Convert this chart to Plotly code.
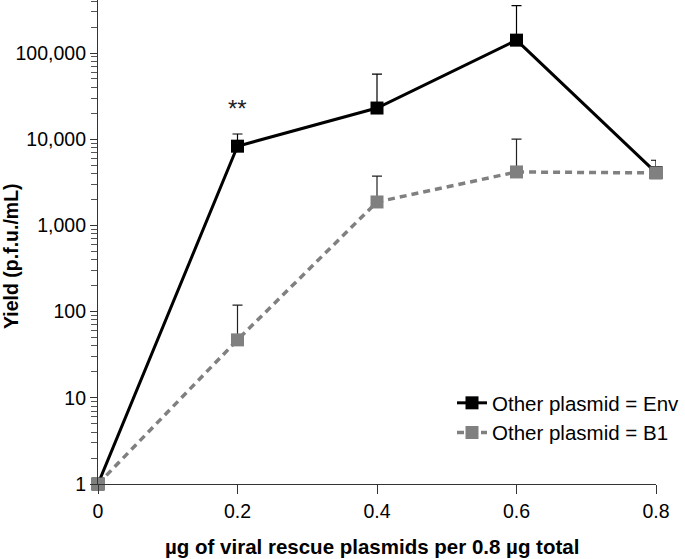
import plotly.graph_objects as go

x_vals = [0, 0.2, 0.4, 0.6, 0.8]
env_yield = [1, 8300, 23000, 141000, 4100]
env_err_hi = [0, 3200, 34000, 214000, 1600]
b1_yield = [1, 47, 1870, 4170, 4060]
b1_err_hi = [0, 72, 1870, 5830, 0]

x_ticks = [0, 0.2, 0.4, 0.6, 0.8]
x_ticklabels = ["0", "0.2", "0.4", "0.6", "0.8"]
y_ticks = [1, 10, 100, 1000, 10000, 100000]
y_ticklabels = ["1", "10", "100", "1,000", "10,000", "100,000"]

minor_vals = [m * 10 ** k for k in range(0, 6) for m in range(2, 10) if m * 10 ** k < 420000]

FONT = "Arial, Liberation Sans, sans-serif"

fig = go.Figure()
fig.add_trace(go.Scatter(
    x=x_vals, y=env_yield, mode="lines+markers", name="Other plasmid = Env",
    line=dict(color="black", width=3),
    marker=dict(symbol="square", size=13, color="black"),
    error_y=dict(type="data", symmetric=False, array=env_err_hi,
                 arrayminus=[0] * len(env_err_hi), color="black", thickness=1.2, width=5),
    cliponaxis=False,
))
fig.add_trace(go.Scatter(
    x=x_vals, y=b1_yield, mode="lines+markers", name="Other plasmid = B1",
    line=dict(color="#808080", width=3.5, dash="7px,5px"),
    marker=dict(symbol="square", size=13, color="#808080"),
    error_y=dict(type="data", symmetric=False, array=b1_err_hi,
                 arrayminus=[0] * len(b1_err_hi), color="#222222", thickness=1.2, width=5),
    cliponaxis=False,
))

fig.add_annotation(x=0.2, y=4.362, xref="x", yref="y", text="**", showarrow=False,
                   font=dict(family=FONT, size=24, color="#222"))

# axis titles as annotations for exact placement
fig.add_annotation(x=-88 / 564, y=(484 - 256) / 484, xref="paper", yref="paper",
                   xanchor="center", yanchor="middle",
                   text="<b>Yield (p.f.u./mL)</b>", textangle=-90, showarrow=False,
                   font=dict(family=FONT, size=19.5, color="black"))
fig.add_annotation(x=(375 - 98) / 564, y=-(546 - 484) / 484, xref="paper", yref="paper",
                   xanchor="center", yanchor="middle",
                   text="<b>µg of viral rescue plasmids per 0.8 µg total</b>", showarrow=False,
                   font=dict(family=FONT, size=20.5, color="black"))

fig.update_layout(
    width=685, height=559,
    margin=dict(l=98, r=23, t=0, b=75),
    paper_bgcolor="white", plot_bgcolor="white",
    font=dict(family=FONT, size=19.5, color="black"),
    showlegend=True,
    legend=dict(x=(456 - 98) / 564, y=(484 - 383) / 484, xanchor="left", yanchor="top",
                bgcolor="rgba(0,0,0,0)", font=dict(size=20.5), tracegroupgap=0),
    xaxis=dict(range=[0, 0.8], tickvals=x_ticks, ticktext=x_ticklabels,
               showline=True, linecolor="#333", linewidth=1.2, ticks="outside",
               ticklen=9, tickcolor="#333", showgrid=False, zeroline=False,
               automargin=False),
    yaxis=dict(type="log", range=[0, 5.615], tickvals=y_ticks, ticktext=y_ticklabels,
               showline=True, linecolor="#333", linewidth=1.2, ticks="outside",
               ticklen=7, tickcolor="#333", showgrid=False, zeroline=False,
               minor=dict(tickvals=minor_vals, ticks="outside", ticklen=6,
                          tickcolor="#555", showgrid=False),
               automargin=False),
)

fig.write_html("out.html", config={"displayModeBar": False},
               post_script="document.body.style.margin='0px';")
